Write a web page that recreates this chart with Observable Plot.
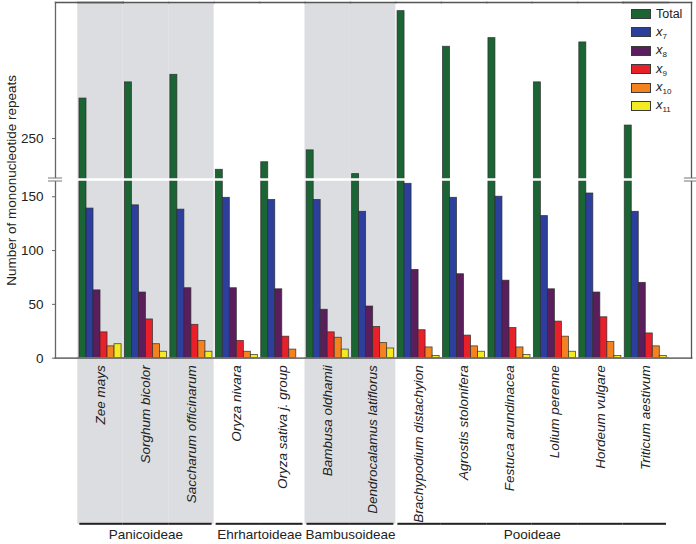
<!DOCTYPE html>
<html><head><meta charset="utf-8">
<script src="https://cdn.jsdelivr.net/npm/d3@7"></script>
<script src="https://cdn.jsdelivr.net/npm/@observablehq/plot@0.6"></script>
<style>
body{margin:0;background:#fff;font-family:"Liberation Sans",Arial,sans-serif;}
#wrap{position:relative;width:696px;height:544px;}
#legend{position:absolute;left:630.7px;top:4.8px;font-size:12.5px;color:#222;}
#legend .row{display:flex;align-items:center;height:18.4px;}
#legend .sw{width:20px;height:10px;box-sizing:border-box;border:1px solid #3a3a3a;margin-right:5.3px;}
#legend i{font-size:13px;}
#legend sub{font-size:8px;vertical-align:-3px;}
</style></head><body><div id="wrap"></div>
<script>
// ---- data ----
const species = ["Zee mays","Sorghum bicolor","Saccharum officinarum","Oryza nivara","Oryza sativa j. group","Bambusa oldhamii","Dendrocalamus latiflorus","Brachypodium distachyion","Agrostis stolonifera","Festuca arundinacea","Lolium perenne","Hordeum vulgare","Triticum aestivum"];
const subfamily = ["Panicoideae","Panicoideae","Panicoideae","Ehrhartoideae","Ehrhartoideae","Bambusoideae","Bambusoideae","Pooideae","Pooideae","Pooideae","Pooideae","Pooideae","Pooideae"];
const shadedGroups = ["Panicoideae","Bambusoideae"];
const series = ["Total","x7","x8","x9","x10","x11"];
const seriesLabels = ["Total","<i>x</i><sub>7</sub>","<i>x</i><sub>8</sub>","<i>x</i><sub>9</sub>","<i>x</i><sub>10</sub>","<i>x</i><sub>11</sub>"];
const total = [287,302,309,221,228,239,217,368,335,343,302,339,262];
const x7    = [139,142,138,149,147,147,136,162,149,150,132,153,136];
const x8    = [63,61,65,65,64,45,48,82,78,72,64,61,70];
const x9    = [24,36,31,16,20,24,29,26,21,28,34,38,23];
const x10   = [11,13,16,6,8,19,14,10,11,10,20,15,11];
const x11   = [13,6,6,3,null,8,9,2,6,3,6,2,2];
const yTicks = [0,50,100,150,250];
const colors = ["#1b6534","#2c3f9c","#5a1e5c","#e8202a","#f4821f","#f3ea22"];

// ---- tables ----
const seriesValues = [total,x7,x8,x9,x10,x11];
const rows = species.flatMap((s,i) => series.map((k,j) => ({species:s, series:k, value:seriesValues[j][i]})))
  .filter(d => d.value != null);
const info = species.map((s,i) => ({species:s, group:subfamily[i],
  first: i===0 || subfamily[i-1]!==subfamily[i],
  last: i===species.length-1 || subfamily[i+1]!==subfamily[i]}));
const groups = d3.groups(info, d => d.group).map(([g, m]) => {
  const n = m.length;
  return {group:g, even: n%2===0, anchor: m[n%2===0 ? n/2-1 : (n-1)/2].species};
});

// ---- layout constants ----
const mL = 77.3, mR = 28, mT = 2, mB = 186.3;
const H = 544, plotBottom = H - mB;
const axisShift = -22.3;           // axis line sits left of first facet
const lineY = 523.8;               // subfamily bracket line
const frameStroke = "#555";

const plot = Plot.plot({
  width: 696, height: H,
  marginLeft: mL, marginRight: mR, marginTop: mT, marginBottom: mB,
  style: {fontFamily: "'Liberation Sans', Arial, sans-serif", fontSize: "13px", color: "#222", background: "transparent"},
  fx: {domain: species, paddingInner: 0, paddingOuter: 0, round: false, axis: null},
  x: {domain: series, paddingInner: 0, paddingOuter: 0.24, round: false, axis: null},
  y: {type: "linear", domain: [0,166,212,376], range: [plotBottom,179,179,mT], axis: null},
  color: {domain: series, range: colors},
  marks: [
    // shaded subfamily bands
    Plot.rect(info.filter(d => shadedGroups.includes(d.group)), {fx:"species", fill:"#dcdde0", insetBottom: -(lineY - plotBottom)}),
    // bars
    Plot.barY(rows, {fx:"species", x:"series", y:"value", fill:"series", stroke:"#2b2b2b", strokeWidth:0.8, strokeOpacity:0.85}),
    // axis break across bars
    Plot.ruleY([190], {stroke:"white", strokeWidth:2.5}),
    // frame lines
    Plot.frame({anchor:"top", stroke:frameStroke, strokeWidth:1.5}),
    Plot.frame({anchor:"bottom", stroke:"#777", strokeWidth:1.8}),
    Plot.frame({anchor:"top", facetAnchor:"left", insetLeft:axisShift, stroke:frameStroke, strokeWidth:1.5}),
    Plot.frame({anchor:"bottom", facetAnchor:"left", insetLeft:axisShift, stroke:"#777", strokeWidth:1.8}),
    Plot.frame({anchor:"left", facetAnchor:"left", insetLeft:axisShift, stroke:"#666", strokeWidth:1.3}),
    Plot.frame({anchor:"top", facetAnchor:"right", insetRight:-23, stroke:frameStroke, strokeWidth:1.5}),
    Plot.frame({anchor:"bottom", facetAnchor:"right", insetRight:-23, stroke:"#777", strokeWidth:1.8}),
    Plot.frame({anchor:"right", facetAnchor:"right", insetRight:-23, stroke:frameStroke, strokeWidth:1.3}),
    // break marks on the axes
    Plot.ruleY([190], {facetAnchor:"left", insetLeft:-27, insetRight:62.7, stroke:"white", strokeWidth:3}),
    Plot.ruleY([190], {facetAnchor:"left", insetLeft:-29.3, insetRight:60.7, dy:-1.5, stroke:"#777", strokeWidth:1}),
    Plot.ruleY([190], {facetAnchor:"left", insetLeft:-29.3, insetRight:60.7, dy:1.5, stroke:"#777", strokeWidth:1}),
    Plot.ruleY([190], {facetAnchor:"right", insetLeft:62, insetRight:-26, stroke:"white", strokeWidth:3}),
    Plot.ruleY([190], {facetAnchor:"right", insetLeft:61.4, insetRight:-28, dy:-1.5, stroke:"#777", strokeWidth:1}),
    Plot.ruleY([190], {facetAnchor:"right", insetLeft:61.4, insetRight:-28, dy:1.5, stroke:"#777", strokeWidth:1}),
    // y axis
    Plot.axisY(yTicks, {anchor:"left", dx:axisShift, tickSize:3, tickPadding:9, stroke:"#666", fontSize:13.5,
      label:"Number of mononucleotide repeats", labelAnchor:"center", labelArrow:"none", labelOffset:71}),
    // species labels
    Plot.axisFx({anchor:"bottom", tickRotate:-90, tickSize:0, tickPadding:7, fontStyle:"italic", fontSize:13.5, label:null}),
    // subfamily brackets
    Plot.rect(info.filter(d => d.first && !d.last), {fx:"species", fill:"#222", insetLeft:2, insetTop: lineY - 1 - mT, insetBottom: -(lineY + 1 - plotBottom)}),
    Plot.rect(info.filter(d => !d.first && !d.last), {fx:"species", fill:"#222", insetTop: lineY - 1 - mT, insetBottom: -(lineY + 1 - plotBottom)}),
    Plot.rect(info.filter(d => d.last && !d.first), {fx:"species", fill:"#222", insetRight:2, insetTop: lineY - 1 - mT, insetBottom: -(lineY + 1 - plotBottom)}),
    // subfamily names
    Plot.text(groups.filter(d => !d.even), {fx:"anchor", text:"group", frameAnchor:"bottom", dy: 538 - plotBottom, fontSize:13.5}),
    Plot.text(groups.filter(d => d.even), {fx:"anchor", text:"group", frameAnchor:"bottom-right", textAnchor:"middle", dy: 538 - plotBottom, fontSize:13.5})
  ]
});
document.getElementById("wrap").appendChild(plot);

// legend
const lg = d3.select("#wrap").append("div").attr("id","legend");
series.forEach((s,i) => {
  const r = lg.append("div").attr("class","row");
  r.append("div").attr("class","sw").style("background", colors[i]);
  r.append("span").html(seriesLabels[i]);
});
</script>
</body></html>
